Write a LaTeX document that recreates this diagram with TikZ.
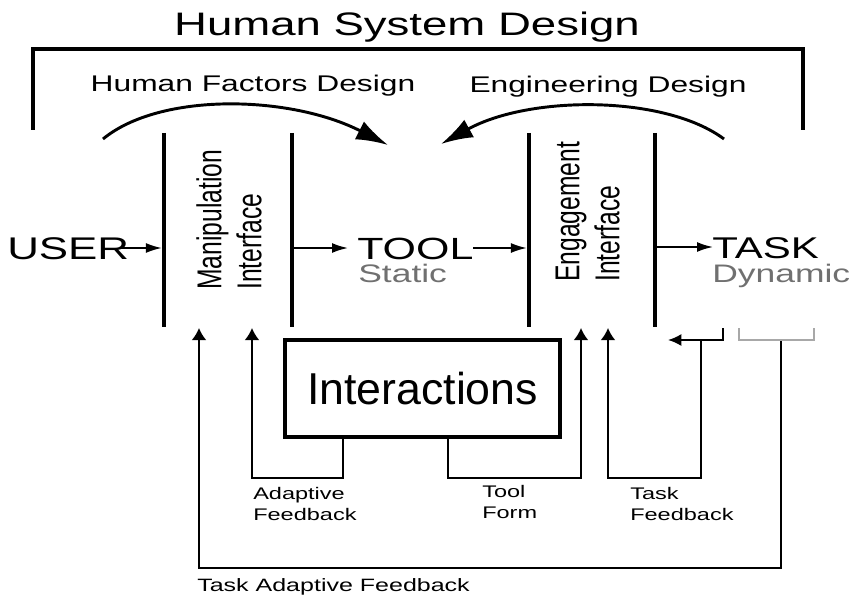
\documentclass[tikz,border=0pt]{standalone}
\usepackage{fontspec}
\usetikzlibrary{arrows.meta,positioning}

\setmainfont[FakeStretch=1.4]{Liberation Sans}
\newfontfamily\upfont[FakeStretch=0.714]{Liberation Sans}
\newfontfamily\boxfont{Liberation Sans}

\definecolor{softgray}{HTML}{707070}
\definecolor{bracketgray}{HTML}{A8A8A8}

\tikzset{
  txt/.style={inner sep=0pt},
  bar/.style={line width=3.5pt},
  link/.style={line width=1.4pt},
  harrow/.style={link,-{Latex[length=12pt,width=7.5pt]}},
  varrow/.style={link,-{Latex[length=9pt,width=11pt]}},
  bigarrow/.style={line width=2.2pt,-{Latex[length=24pt,width=15pt]}},
}

\begin{document}
\begin{tikzpicture}[x=0.75pt,y=-0.75pt]

        \useasboundingbox (0,0) rectangle (855,595);

        % Headings
        \node[txt, anchor=base, font=\fontsize{24.4pt}{29pt}\selectfont] (title) at (407,36) {Human System Design};
        \node[txt, anchor=base, font=\fontsize{17pt}{20pt}\selectfont] (hfd) at (253,92) {Human Factors Design};
        \node[txt, anchor=base, font=\fontsize{17pt}{20pt}\selectfont] (engd) at (608,93) {Engineering Design};

        % Bracket
        \coordinate (brl) at (33,130);
        \coordinate (brr) at (803,130);
        \coordinate (brtop) at (0,49);
        \draw[line width=3pt] (brl) -- (brl |- brtop);
        \draw[line width=3pt] (brr) -- (brr |- brtop);
        \draw[line width=2.3pt] ([xshift=-1.5pt]brl |- brtop) -- ([xshift=1.5pt]brr |- brtop);

        % Curved arrows
        \coordinate (hfs) at (103,139);
        \coordinate (hft) at (388,145);
        \coordinate (eds) at (724,139);
        \coordinate (edt) at (441,144);
        \draw[bigarrow] (hfs) .. controls (160,92) and (290,95) .. (hft);
        \draw[bigarrow] (eds) .. controls (665,95) and (530,95) .. (edt);

        % Interface bars
        \coordinate (m1) at (164,133);
        \coordinate (m2) at (292,133);
        \coordinate (e1) at (529,133);
        \coordinate (e2) at (655,133);
        \foreach \b in {m1,m2,e1,e2}
            \draw[bar] (\b) -- ++(0,194);

        \node[txt, rotate=90, anchor=south west, align=left,
              font=\upfont\fontsize{25.9pt}{30pt}\selectfont] (manip) at (262,290) {Manipulation\\Interface};
        \node[txt, rotate=90, anchor=south west, align=left,
              font=\upfont\fontsize{25.9pt}{30pt}\selectfont] (engage) at (620,282) {Engagement\\Interface};

        % Main line
        \node[txt, anchor=base west, font=\fontsize{23.5pt}{28pt}\selectfont] (user) at (7,259) {USER};
        \node[txt, anchor=base west, font=\fontsize{23pt}{28pt}\selectfont] (tool) at (357,259) {TOOL};
        \node[txt, anchor=base west, text=softgray, font=\fontsize{19pt}{23pt}\selectfont] (static) at (358,282) {Static};
        \node[txt, anchor=base west, font=\fontsize{22.5pt}{28pt}\selectfont] (task) at (712,258) {TASK};
        \node[txt, anchor=base west, text=softgray, font=\fontsize{19pt}{23pt}\selectfont] (dynamic) at (712,282) {Dynamic};

        \coordinate (userend) at (120,248);
        \coordinate (toolin) at (348,248);
        \coordinate (toolout) at (473,248);
        \coordinate (taskin) at (713,247);
        \draw[harrow] (userend) -- ([xshift=-1.6pt]userend -| m1);
        \draw[harrow] ([xshift=1.3pt]m2 |- userend) -- (toolin);
        \draw[harrow] (toolout) -- ([xshift=-1.6pt]e1 |- toolout);
        \draw[harrow] ([xshift=1.3pt]e2 |- taskin) -- (taskin);

        % Interactions
        \node[draw, line width=3pt, minimum width=206pt, minimum height=73pt, inner sep=0pt,
              font=\boxfont\fontsize{33.5pt}{40pt}\selectfont] (inter) at (422.5,388.5) {Interactions};

        % Feedback loops
        \coordinate (tip1) at (199,328);
        \coordinate (tip2) at (252,328);
        \coordinate (tip3) at (581,328);
        \coordinate (tip4) at (608,328);
        \coordinate (afb) at (343,478);
        \coordinate (tfb) at (448,478);
        \coordinate (kfb) at (701,478);
        \coordinate (tafb) at (781,568);

        \draw[varrow] (inter.south -| afb) -- (afb) -- (afb -| tip2) -- (tip2);
        \draw[varrow] (inter.south -| tfb) -- (tfb) -- (tfb -| tip3) -- (tip3);
        \draw[varrow] (kfb |- 0,340) -- (kfb) -- (kfb -| tip4) -- (tip4);
        \draw[varrow] (tafb |- 0,340) -- (tafb) -- (tafb -| tip1) -- (tip1);

        % Small brackets under TASK
        \coordinate (kcap) at (723,328);
        \coordinate (kend) at (668,340);
        \draw[link, -{Latex[length=10pt,width=9pt]}] (kcap) -- (kcap |- kend) -- (kend);
        \draw[bracketgray, line width=0.9pt] (739,328) -- (739,340) -- (814,340) -- (814,328);

        % Labels
        \node[txt, anchor=north west, align=left, font=\fontsize{12.6pt}{15.75pt}\selectfont] (adfb) at (253,487) {Adaptive\\Feedback};
        \node[txt, anchor=north west, align=left, font=\fontsize{12.6pt}{15.75pt}\selectfont] (tform) at (482,485) {Tool\\Form};
        \node[txt, anchor=north west, align=left, font=\fontsize{12.6pt}{15.75pt}\selectfont] (tkfb) at (630,487) {Task\\Feedback};
        \node[txt, anchor=base west, font=\fontsize{13.4pt}{16pt}\selectfont] (tadfb) at (197,591) {Task Adaptive Feedback};

\end{tikzpicture}
\end{document}
